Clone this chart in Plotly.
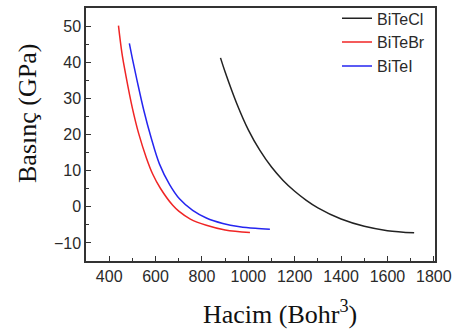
import plotly.graph_objects as go

# Data
cl_v = [880, 900, 950, 1000, 1050, 1100, 1150, 1200, 1250, 1300, 1400, 1500, 1600, 1715]
cl_p = [41.2, 37.3, 28.6, 21.3, 15.6, 11.0, 7.3, 4.3, 1.8, -0.3, -3.4, -5.4, -6.6, -7.2]

br_v = [440, 455, 472, 500, 527, 560, 588, 620, 674, 700, 750, 819, 900, 1007]
br_p = [50.1, 42.5, 36.3, 27.3, 20.3, 13.6, 9.0, 5.2, 0.4, -1.2, -3.4, -5.1, -6.4, -7.1]

i_v = [487, 500, 520, 550, 580, 617, 660, 703, 760, 819, 890, 963, 1030, 1093]
i_p = [45.2, 41.0, 35.0, 26.5, 19.3, 11.8, 6.2, 2.2, -1.0, -3.1, -4.6, -5.5, -5.95, -6.2]

series = [
    ("BiTeCl", cl_v, cl_p, "#222222"),
    ("BiTeBr", br_v, br_p, "#f02525"),
    ("BiTeI", i_v, i_p, "#2525f0"),
]

x_ticks = [400, 600, 800, 1000, 1200, 1400, 1600, 1800]
y_ticks = [-10, 0, 10, 20, 30, 40, 50]

fig = go.Figure()
for name, v, p, c in series:
    fig.add_trace(go.Scatter(x=v, y=p, mode="lines", name=name,
                             line=dict(color=c, width=1.5, shape="spline", smoothing=1.0)))

axis_common = dict(
    showline=True, linecolor="#333333", linewidth=1.5, mirror=True,
    ticks="inside", ticklen=5, tickwidth=1, tickcolor="#333333",
    showgrid=False, zeroline=False,
    tickfont=dict(family="Liberation Sans, Arial", size=16, color="#2a2a2a"),
)

fig.update_xaxes(range=[300, 1805], tickvals=x_ticks,
                 minor=dict(ticks="inside", ticklen=3, dtick=100, tick0=300, tickcolor="#333333"),
                 **axis_common)
fig.update_yaxes(range=[-15, 55], tickvals=y_ticks,
                 minor=dict(ticks="inside", ticklen=3, dtick=5, tick0=-15, tickcolor="#333333"),
                 **axis_common)

fig.add_annotation(text="Hacim (Bohr<sup>3</sup>)", xref="paper", yref="paper",
                   x=(280 - 86) / 349, y=-(312 - 261) / 253, xanchor="center", yanchor="middle",
                   showarrow=False, font=dict(family="Liberation Serif, Times New Roman", size=26, color="#111111"))
fig.add_annotation(text="Basınç (GPa)", xref="paper", yref="paper",
                   x=-(86 - 27) / 349, y=(261 - 114) / 253, xanchor="center", yanchor="middle",
                   textangle=-90, showarrow=False,
                   font=dict(family="Liberation Serif, Times New Roman", size=26, color="#111111"))

fig.update_layout(
    width=454, height=329,
    margin=dict(l=86, r=19, t=8, b=68, autoexpand=False),
    paper_bgcolor="white", plot_bgcolor="white",
    showlegend=True,
    legend=dict(x=(337 - 86) / 349, y=1.026, xanchor="left", yanchor="top", bgcolor="rgba(0,0,0,0)",
                font=dict(family="Liberation Sans, Arial", size=16, color="#2a2a2a"),
                tracegroupgap=0, itemwidth=30),
)

fig.write_html("out.html")
